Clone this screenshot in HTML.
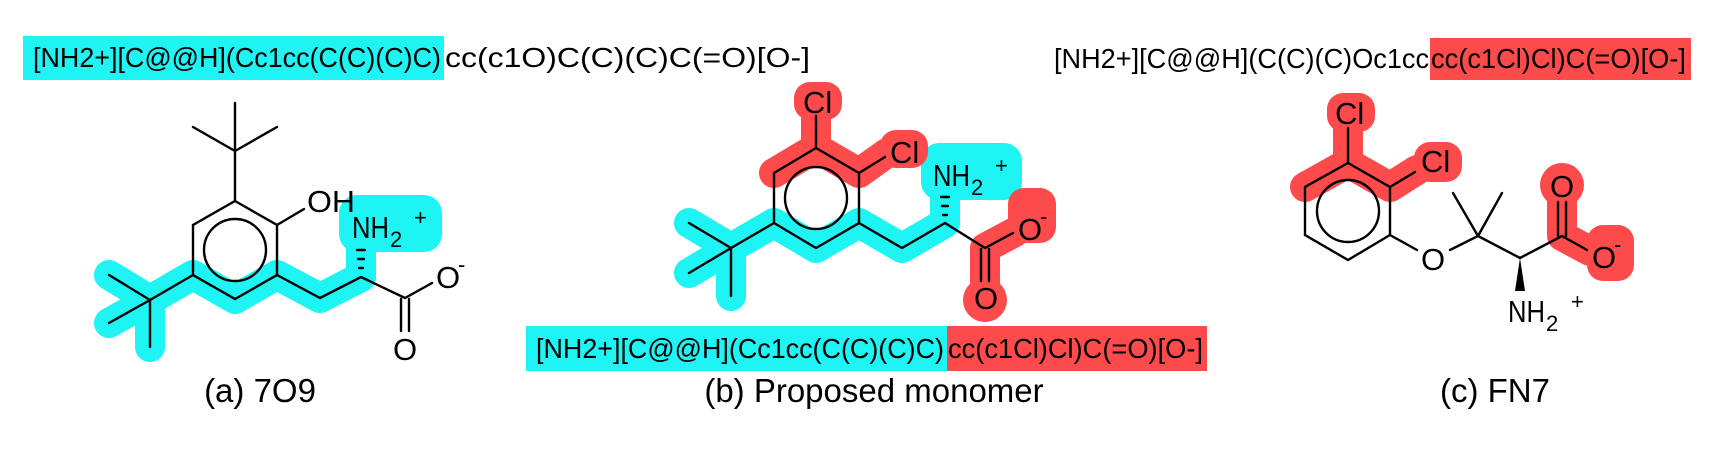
<!DOCTYPE html>
<html><head><meta charset="utf-8"><style>
html,body{margin:0;padding:0;background:#fff;width:1716px;height:452px;overflow:hidden}
svg{display:block}
text{font-family:"Liberation Sans",Arial,sans-serif;fill:#000}
.b{stroke:#000;stroke-width:2.4;fill:none;stroke-linecap:round}
.cy{stroke:#1ef4f4;stroke-width:30;fill:none;stroke-linecap:round;stroke-linejoin:round}
.rd{stroke:#fd4b4b;stroke-width:30;fill:none;stroke-linecap:round;stroke-linejoin:round}
.at{font-size:31px}
.sm{font-size:22px}
.sml{font-size:28px}
.cap{font-size:33px}
</style></head><body>
<svg width="1716" height="452" viewBox="0 0 1716 452" xmlns="http://www.w3.org/2000/svg">
<!-- SMILES boxes -->
<rect x="23" y="36" width="421" height="44" fill="#1ef4f4"/>
<text class="sml" x="33" y="67" textLength="408" lengthAdjust="spacingAndGlyphs">[NH2+][C@@H](Cc1cc(C(C)(C)C)</text>
<text class="sml" x="445" y="67" textLength="365" lengthAdjust="spacingAndGlyphs">cc(c1O)C(C)(C)C(=O)[O-]</text>

<rect x="1430" y="38" width="261" height="42" fill="#fd4b4b"/>
<text class="sml" x="1054" y="68" textLength="375" lengthAdjust="spacingAndGlyphs">[NH2+][C@@H](C(C)(C)Oc1cc</text>
<text class="sml" x="1431" y="68" textLength="255" lengthAdjust="spacingAndGlyphs">cc(c1Cl)Cl)C(=O)[O-]</text>

<rect x="526" y="326" width="421" height="45" fill="#1ef4f4"/>
<rect x="947" y="326" width="260" height="45" fill="#fd4b4b"/>
<text class="sml" x="536" y="358" textLength="408" lengthAdjust="spacingAndGlyphs">[NH2+][C@@H](Cc1cc(C(C)(C)C)</text>
<text class="sml" x="948" y="358" textLength="255" lengthAdjust="spacingAndGlyphs">cc(c1Cl)Cl)C(=O)[O-]</text>

<!-- ===== (a) ===== -->
<path class="cy" d="M109,275 L150,300 L109,323 M150,347 L150,300 L193,275 L235,299 L277,275 L320,298 L361,277 L361,245"/>
<rect x="339" y="195" width="103" height="57" rx="18" fill="#1ef4f4"/>
<path class="b" d="M235,201 L277,225 L277,275 L235,299 L193,275 L193,225 Z"/>
<circle class="b" cx="235" cy="250" r="31"/>
<path class="b" d="M235,201 L235,103 M235,151 L193,127 M235,151 L277,127"/>
<path class="b" d="M277,225 L304,209"/>
<path class="b" d="M193,275 L150,300 L109,275 M150,300 L109,323 M150,300 L150,347"/>
<path class="b" d="M277,275 L320,298 L361,277 L405,298 L432,283 M401,299 L401,331 M409,299 L409,331"/>
<path class="b" d="M359,268 L363,268 M358,259 L364,259 M357,250 L365,250" stroke-width="2"/>
<text class="at" x="307" y="212" textLength="48" lengthAdjust="spacingAndGlyphs">OH</text>
<text class="at" x="352" y="238" textLength="37" lengthAdjust="spacingAndGlyphs">NH</text>
<text class="sm" x="390" y="247">2</text>
<text class="sm" x="414" y="225">+</text>
<text class="at" x="436" y="288">O</text>
<text class="sm" x="458" y="272">-</text>
<text class="at" x="393" y="360">O</text>
<text class="cap" x="260" y="402" text-anchor="middle">(a) 7O9</text>

<!-- ===== (b) ===== -->
<path class="cy" d="M689,223 L731,248 L689,273 M731,296 L731,248 L774,223 L816,248 L859,223 L902,248 L945,223 L945,195"/>
<rect x="921" y="143" width="101" height="57" rx="18" fill="#1ef4f4"/>
<path class="rd" d="M774,173 L816,148 L816,112 M816,148 L859,173 L887,153"/>
<rect x="794" y="82" width="48" height="38" rx="16" fill="#fd4b4b"/>
<rect x="880" y="130" width="48" height="38" rx="16" fill="#fd4b4b"/>
<path class="rd" d="M985,248 L1015,232 M985,248 L985,295"/>
<rect x="1008" y="188" width="48" height="55" rx="16" fill="#fd4b4b"/>
<circle cx="985" cy="300" r="22" fill="#fd4b4b"/>
<path class="b" d="M816,148 L859,173 L859,223 L816,248 L774,223 L774,173 Z"/>
<circle class="b" cx="816" cy="198" r="31"/>
<path class="b" d="M816,148 L816,116 M859,173 L885,157"/>
<path class="b" d="M774,223 L731,248 L689,223 M731,248 L689,273 M731,248 L731,296"/>
<path class="b" d="M859,223 L902,248 L945,223 L985,248 L1013,233 M981,249 L981,281 M989,249 L989,281"/>
<path class="b" d="M943,215 L947,215 M942,206 L948,206 M941,197 L949,197" stroke-width="2"/>
<text class="at" x="803" y="113">Cl</text>
<text class="at" x="890" y="163">Cl</text>
<text class="at" x="933" y="186" textLength="37" lengthAdjust="spacingAndGlyphs">NH</text>
<text class="sm" x="971" y="195">2</text>
<text class="sm" x="995" y="173">+</text>
<text class="at" x="1018" y="240">O</text>
<text class="sm" x="1040" y="224">-</text>
<text class="at" x="974" y="309">O</text>
<text class="cap" x="874" y="402" text-anchor="middle">(b) Proposed monomer</text>

<!-- ===== (c) ===== -->
<path class="rd" d="M1305,187 L1348,163 L1348,122 M1348,163 L1390,187 L1417,170"/>
<rect x="1327" y="93" width="48" height="39" rx="16" fill="#fd4b4b"/>
<rect x="1414" y="142" width="48" height="40" rx="16" fill="#fd4b4b"/>
<path class="rd" d="M1562,236 L1562,195 M1562,236 L1590,251"/>
<circle cx="1562" cy="185" r="22" fill="#fd4b4b"/>
<rect x="1587" y="225" width="47" height="56" rx="16" fill="#fd4b4b"/>
<path class="b" d="M1348,163 L1390,187 L1390,235 L1348,260 L1305,235 L1305,187 Z"/>
<circle class="b" cx="1348" cy="211" r="31"/>
<path class="b" d="M1348,163 L1348,128 M1390,187 L1415,172"/>
<path class="b" d="M1390,235 L1417,250 M1450,250 L1478,236 L1453,193 M1478,236 L1502,193 M1478,236 L1520,258 L1562,236 L1587,250 M1558,236 L1558,202 M1566,236 L1566,202"/>
<polygon points="1520,258 1515,291 1525,291" fill="#000"/>
<text class="at" x="1335" y="124">Cl</text>
<text class="at" x="1421" y="172">Cl</text>
<text class="at" x="1421" y="270">O</text>
<text class="at" x="1550" y="197">O</text>
<text class="at" x="1592" y="268">O</text>
<text class="sm" x="1614" y="252">-</text>
<text class="at" x="1508" y="322" textLength="37" lengthAdjust="spacingAndGlyphs">NH</text>
<text class="sm" x="1546" y="331">2</text>
<text class="sm" x="1571" y="309">+</text>
<text class="cap" x="1495" y="402" text-anchor="middle">(c) FN7</text>
</svg>
</body></html>
